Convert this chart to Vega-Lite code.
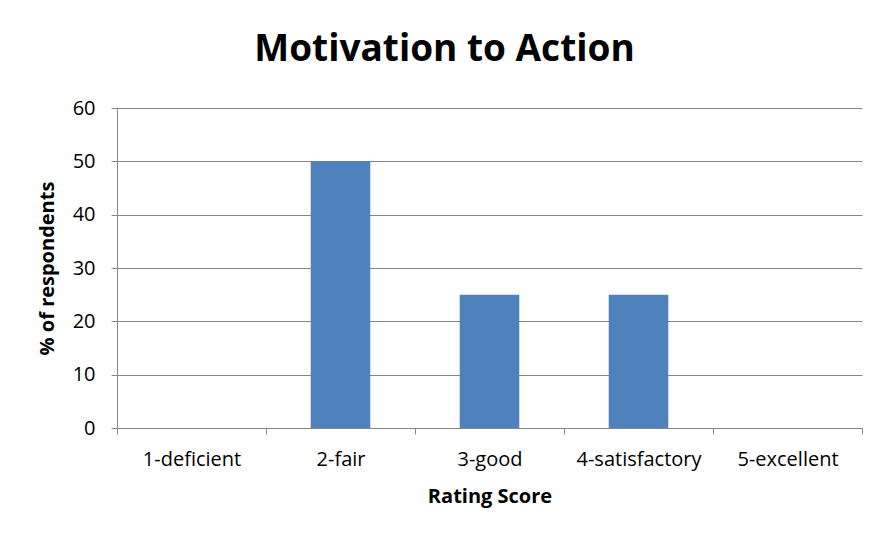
{
  "$schema": "https://vega.github.io/schema/vega-lite/v6.json",
  "width": 745,
  "height": 320,
  "autosize": {"type": "none"},
  "padding": {"left": 117, "top": 108, "right": 24, "bottom": 115},
  "background": "white",
  "title": {
    "text": "Motivation to Action",
    "font": "Open Sans",
    "fontSize": 37,
    "fontWeight": "bold",
    "color": "#000000",
    "anchor": "middle",
    "frame": "group",
    "dx": -45,
    "offset": 29
  },
  "data": {
    "values": [
      {"rating": "1-deficient", "pct": 0},
      {"rating": "2-fair", "pct": 50},
      {"rating": "3-good", "pct": 25},
      {"rating": "4-satisfactory", "pct": 25},
      {"rating": "5-excellent", "pct": 0}
    ]
  },
  "mark": {"type": "bar", "color": "#4F81BD", "width": {"band": 0.4}},
  "encoding": {
    "x": {
      "field": "rating",
      "type": "nominal",
      "sort": null,
      "scale": {"paddingInner": 0, "paddingOuter": 0},
      "axis": {
        "title": "Rating Score",
        "labelAngle": 0,
        "tickBand": "extent",
        "labelPadding": 15,
        "titlePadding": 17
      }
    },
    "y": {
      "field": "pct",
      "type": "quantitative",
      "scale": {"domain": [0, 60]},
      "axis": {
        "title": "% of respondents",
        "values": [0, 10, 20, 30, 40, 50, 60],
        "labelPadding": 16,
        "titlePadding": 15
      }
    }
  },
  "config": {
    "view": {"stroke": null},
    "axis": {
      "labelFont": "Open Sans",
      "labelFontSize": 20,
      "labelColor": "#000000",
      "titleFont": "Open Sans",
      "titleFontSize": 20,
      "titleFontWeight": "bold",
      "titleColor": "#000000",
      "domainColor": "#868686",
      "tickColor": "#868686",
      "gridColor": "#868686",
      "tickSize": 6,
      "grid": false
    },
    "axisY": {"grid": true},
    "axisX": {"grid": false}
  }
}
